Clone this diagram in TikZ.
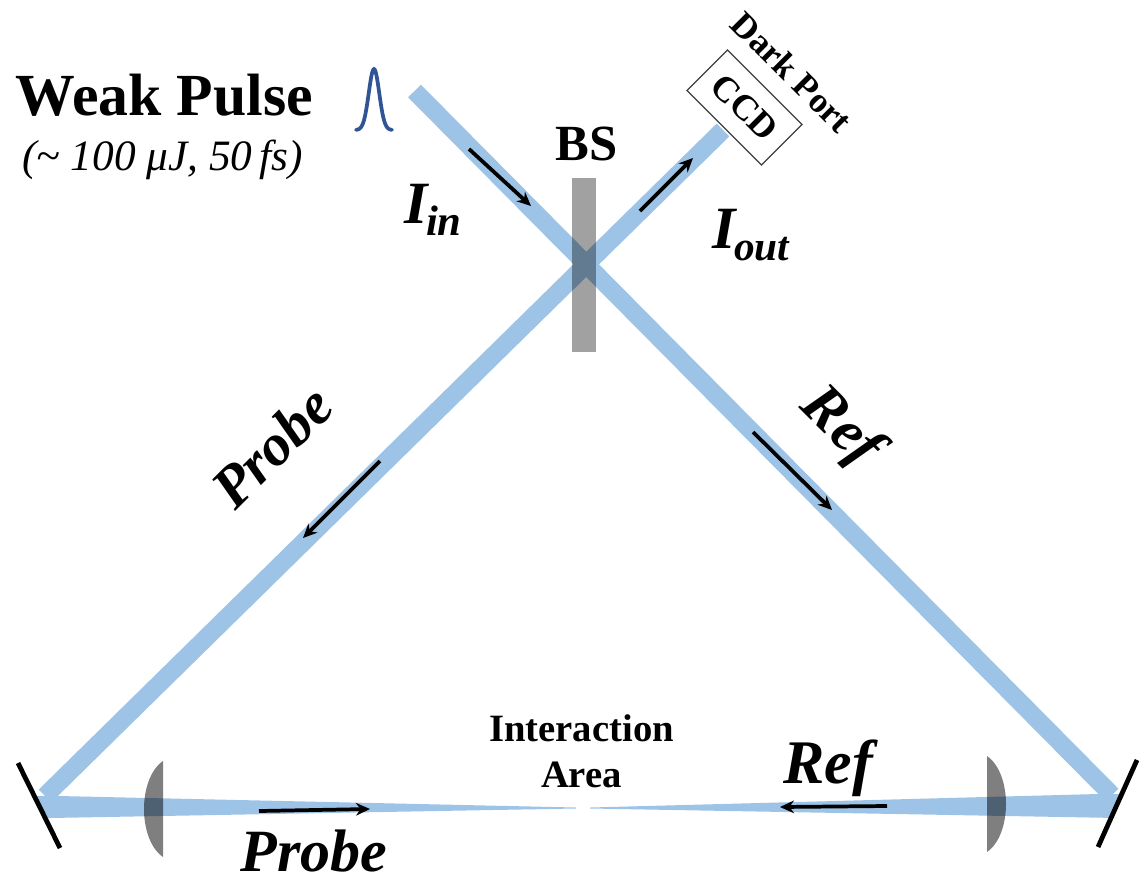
\documentclass[tikz,border=0pt]{standalone}
\usepackage{fontspec}
\setmainfont{Liberation Serif}
\usetikzlibrary{arrows.meta,positioning,calc}
\definecolor{beamblue}{HTML}{9DC3E6}
\definecolor{pulseblue}{HTML}{2F5597}
\newcommand{\sizedfont}[1]{\fontsize{#1}{#1}\selectfont}
\newcommand{\beamlabel}[2]{{\sizedfont{45}I}\kern-1pt\raisebox{-9pt}{\sizedfont{#1}#2}}

\begin{document}
\begin{tikzpicture}[
    x=0.75pt, y=-0.75pt,
    every node/.style={inner sep=0pt, outer sep=0pt},
    beam/.style={line width=13.5pt, beamblue},
    taper/.style={fill=beamblue},
    dirarrow/.style={-{Stealth[length=10.5pt, width=9.5pt]}, line width=2.8pt, black},
    mirror/.style={line width=3.6pt, black},
    lens/.style={fill=black, fill opacity=0.5},
    splitter/.style={fill=black, fill opacity=0.37},
    headlabel/.style={font=\sizedfont{44.8}\bfseries, anchor=base west},
    beamname/.style={font=\sizedfont{45}\bfseries\itshape},
    small/.style={font=\sizedfont{29}\bfseries}
]
\useasboundingbox (0,0) rectangle (1139,876);

% Beam path
\coordinate (start) at (414.5,91);
\coordinate (mirrorR) at (1112,795);
\coordinate (ccdend) at (723,130);
\coordinate (mirrorL) at (45,796);
\draw[beam] (start) -- (mirrorR);
\draw[beam] (ccdend) -- (mirrorL);

% Focused beams
\fill[taper] (34,796) -- (58,796) -- (576,807.5) -- (576,808.5) -- (50,818) -- (45,818) -- cycle;
\fill[taper] (1121,794) -- (1098,794) -- (590,807.5) -- (590,808.5) -- (1118,818) -- (1111,818) -- cycle;

% Beam splitter and detector
\node[splitter, minimum width=18pt, minimum height=130.5pt] (bs) at (584,265) {};
\node[draw=black!75, line width=0.9pt, fill=white, minimum width=79pt, minimum height=43pt, rotate=-45] (ccd) at (744.5,107.5) {};
\node[small, font=\sizedfont{27}\bfseries, rotate=-45] at (ccd.center) {CCD};
\node[small, font=\sizedfont{26.5}\bfseries, rotate=-45] (dark) at (792,72) {Dark Port};

% Mirrors
\coordinate (ml1) at (18,763);
\coordinate (ml2) at (60,848);
\coordinate (mr1) at (1137,760);
\coordinate (mr2) at (1098,847);
\draw[mirror] (ml1) -- (ml2);
\draw[mirror] (mr1) -- (mr2);

% Lenses
\fill[lens] (163,761) .. controls (150,770) and (144,790) .. (144,809) .. controls (144,828) and (150,848) .. (163,857) -- cycle;
\fill[lens] (987,756) .. controls (1000,765) and (1006,785) .. (1006,804) .. controls (1006,823) and (1000,843) .. (987,852) -- cycle;

% Input pulse
\draw[pulseblue, line width=2.8pt, line cap=round] plot[domain=356:392, samples=61, smooth] (\x,{130-61*exp(-(\x-374)*(\x-374)/55)});

% Direction arrows
\coordinate (a1) at (469,149);
\coordinate (a2) at (531,206);
\coordinate (b1) at (640,211);
\coordinate (b2) at (693,158);
\coordinate (c1) at (380,461);
\coordinate (c2) at (303,538);
\coordinate (d1) at (753,432);
\coordinate (d2) at (832,510);
\coordinate (e1) at (259,811);
\coordinate (e2) at (370,809);
\coordinate (f1) at (887,806);
\coordinate (f2) at (780,807);
\draw[dirarrow] (a1) -- (a2);
\draw[dirarrow] (b1) -- (b2);
\draw[dirarrow] (c1) -- (c2);
\draw[dirarrow] (d1) -- (d2);
\draw[dirarrow] (e1) -- (e2);
\draw[dirarrow] (f1) -- (f2);

% Labels
\node[headlabel] (weak) at (16,115) {Weak Pulse};
\node[anchor=base west, font=\sizedfont{32.5}\itshape] (energy) at (22,170) {(\char"7E{} 100 μJ, 50\,fs)};
\node[anchor=base, font=\sizedfont{38}\bfseries] (bstext) at (586.5,160) {BS};
\node[beamname, anchor=base west] (iin) at (404,223) {\beamlabel{32}{in}};
\node[beamname, anchor=base west] (iout) at (712,248) {\beamlabel{31}{out}};
\node[beamname, font=\sizedfont{44}\bfseries\itshape, rotate=45] (probeup) at (272,447) {Probe};
\node[beamname, rotate=-45] (refup) at (840,428) {Ref};
\node[beamname, anchor=base] (probelow) at (314,871) {Probe};
\node[beamname, font=\sizedfont{46.5}\bfseries\itshape, anchor=base] (reflow) at (828,783) {Ref};
\node[small, anchor=base] (area1) at (581.5,741) {Interaction};
\node[small, anchor=base] (area2) at (581.5,787) {Area};

\end{tikzpicture}
\end{document}
